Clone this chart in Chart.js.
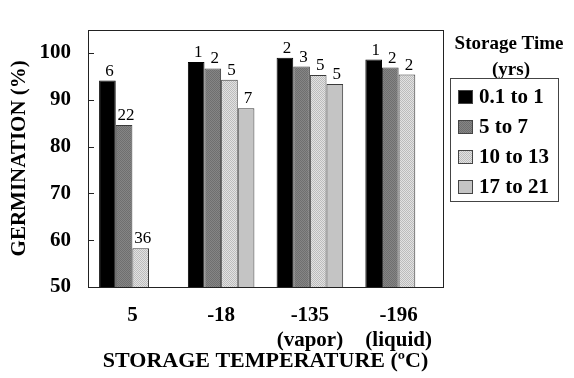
<!DOCTYPE html>
<html>
<head>
<meta charset="utf-8">
<script src="https://cdn.jsdelivr.net/npm/chart.js@4/dist/chart.umd.min.js"></script>
<style>body{margin:0;background:#fff}</style>
</head>
<body>
<canvas id="myChart" width="574" height="378"></canvas>
<script>
// storage temperature groups (x categories)
var temps = [['5'], ['-18'], ['-135', '(vapor)'], ['-196', '(liquid)']];
var seriesNames = ['0.1 to 1', '5 to 7', '10 to 13', '17 to 21'];

// germination %
var germ01to1 = [94.1, 98.1, 99.0, 98.6];
var germ5to7 = [84.6, 96.7, 97.1, 96.9];
var germ10to13 = [58.3, 94.3, 95.3, 95.4];
var germ17to21 = [null, 88.2, 93.4, null];

// numbers printed above the bars
var n01to1 = [6, 1, 2, 1];
var n5to7 = [22, 2, 3, 2];
var n10to13 = [36, 5, 5, 2];
var n17to21 = [null, 7, 5, null];

var yTicks = [50, 60, 70, 80, 90, 100];

var serif = '"Liberation Serif", "Times New Roman", serif';
Chart.defaults.font.family = serif;
Chart.defaults.color = '#000';

var ctx = document.getElementById('myChart').getContext('2d');

function makePattern(bg, dot) {
    var c = document.createElement('canvas');
    c.width = 2; c.height = 2;
    var g = c.getContext('2d');
    g.fillStyle = bg; g.fillRect(0, 0, 2, 2);
    g.fillStyle = dot; g.fillRect(0, 0, 1, 1); g.fillRect(1, 1, 1, 1);
    return ctx.createPattern(c, 'repeat');
}

var fills = ['#000000', makePattern('#858585', '#6f6f6f'), makePattern('#e2e2e2', '#bcbcbc'), '#c4c4c4'];
var allData = [germ01to1, germ5to7, germ10to13, germ17to21];
var allCounts = [n01to1, n5to7, n10to13, n17to21];

var frame = {
    id: 'frame',
    afterDraw: function(chart) {
        var a = chart.chartArea, c = chart.ctx, y = chart.scales.y;
        c.save();
        c.strokeStyle = '#222';
        c.lineWidth = 1;
        c.strokeRect(Math.round(a.left) + 0.5, Math.round(a.top) + 0.5, Math.round(a.right - a.left), Math.round(a.bottom - a.top));
        yTicks.forEach(function(v) {
            var py = Math.round(y.getPixelForValue(v)) + 0.5;
            c.beginPath();
            c.moveTo(a.left, py);
            c.lineTo(a.left + 6, py);
            c.stroke();
        });
        c.restore();
    }
};

var countLabels = {
    id: 'countLabels',
    afterDatasetsDraw: function(chart) {
        var c = chart.ctx;
        c.save();
        c.font = '17px ' + serif;
        c.fillStyle = '#000';
        c.textAlign = 'center';
        c.textBaseline = 'alphabetic';
        chart.data.datasets.forEach(function(ds, i) {
            chart.getDatasetMeta(i).data.forEach(function(bar, j) {
                var n = allCounts[i][j];
                if (n == null || ds.data[j] == null) return;
                c.fillText(String(n), bar.x + 2, bar.y - 5);
            });
        });
        c.restore();
    }
};

var legendBox = {
    id: 'legendBox',
    afterDraw: function(chart) {
        var c = chart.ctx;
        c.save();
        c.fillStyle = '#000';
        c.textAlign = 'center';
        c.textBaseline = 'middle';
        c.font = 'bold 19px ' + serif;
        c.fillText('Storage Time', 509, 44);
        c.fillText('(yrs)', 511, 70);
        c.strokeStyle = '#444';
        c.lineWidth = 1;
        c.strokeRect(450.5, 78.5, 108, 123);
        chart.data.datasets.forEach(function(ds, i) {
            var y = 97 + i * 30;
            c.fillStyle = ds.backgroundColor;
            c.fillRect(458, y - 7, 15, 14);
            c.strokeStyle = '#444';
            c.strokeRect(458.5, y - 6.5, 14, 13);
            c.fillStyle = '#000';
            c.textAlign = 'left';
            c.font = 'bold 21px ' + serif;
            c.fillText(ds.label, 479, y + 1);
        });
        c.restore();
    }
};

var chart = new Chart(ctx, {
    type: 'bar',
    data: {
        labels: temps,
        datasets: seriesNames.map(function(name, i) {
            return {
                label: name,
                data: allData[i],
                backgroundColor: fills[i],
                borderColor: i === 0 ? '#000' : '#3a3a3a',
                borderWidth: 1,
                categoryPercentage: 0.75,
                barPercentage: 1.0
            };
        })
    },
    options: {
        responsive: false,
        animation: false,
        layout: { padding: { top: 12, right: 131, left: 0, bottom: 0 } },
        plugins: {
            legend: { display: false },
            tooltip: { enabled: false }
        },
        scales: {
            x: {
                grid: { display: false, drawTicks: false },
                border: { display: false },
                ticks: { font: { size: 21, weight: 'bold' }, padding: 16, maxRotation: 0 },
                title: {
                    display: true,
                    text: 'STORAGE TEMPERATURE (\u00baC)',
                    font: { size: 22, weight: 'bold' },
                    padding: { top: 0, bottom: 3 }
                },
                afterFit: function(s) { s.height = 91; }
            },
            y: {
                min: 50,
                max: 105,
                grid: { display: false, drawTicks: false },
                border: { display: false },
                ticks: { stepSize: 10, font: { size: 21, weight: 'bold' }, padding: 17 },
                afterBuildTicks: function(s) {
                    s.ticks = s.ticks.filter(function(t) { return yTicks.indexOf(t.value) >= 0; });
                },
                title: {
                    display: true,
                    text: 'GERMINATION (%)',
                    font: { size: 21, weight: 'bold' },
                    padding: { top: 7, bottom: 0 }
                },
                afterFit: function(s) { s.width = 88; }
            }
        }
    },
    plugins: [frame, countLabels, legendBox]
});
</script>
</body>
</html>
